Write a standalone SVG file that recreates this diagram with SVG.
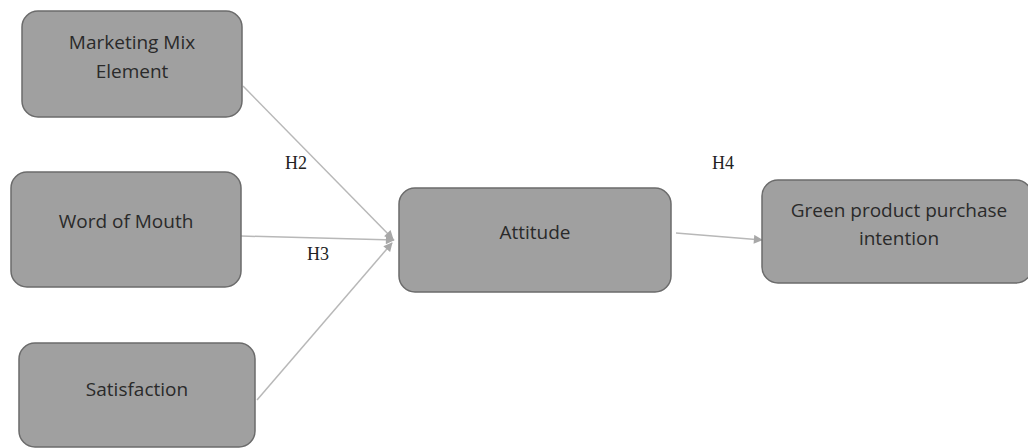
<svg xmlns="http://www.w3.org/2000/svg" width="1028" height="448" viewBox="0 0 1028 448">
  <style>
    .box { fill: #a0a0a0; stroke: #6b6b6b; stroke-width: 1.5; }
    .lbl { font-family: "Open Sans", "Liberation Sans", sans-serif; font-size: 19px; fill: #2a2a2a; text-anchor: middle; }
    .hyp { font-family: "Liberation Serif", serif; font-size: 18px; fill: #222; }
    .edge { stroke: #b8b8b8; stroke-width: 1.5; fill: none; marker-end: url(#arrow); }
  </style>
  <defs>
    <marker id="arrow" viewBox="0 0 10 10" refX="9" refY="5" markerWidth="10" markerHeight="9" markerUnits="userSpaceOnUse" orient="auto">
      <path d="M0,0 L10,5 L0,10 z" fill="#a8a8a8"/>
    </marker>
  </defs>
  <rect width="1028" height="448" fill="#ffffff"/>

  <g id="connectors">
    <line class="edge" x1="243" y1="86" x2="393" y2="239"/>
    <line class="edge" x1="241" y1="236" x2="394" y2="240"/>
    <line class="edge" x1="257" y1="400" x2="392" y2="243"/>
    <line class="edge" x1="676" y1="233" x2="762" y2="240"/>
  </g>

  <g id="node-marketing">
    <rect class="box" x="22" y="11" width="220" height="106" rx="16"/>
    <text class="lbl" x="132" y="49">Marketing Mix</text>
    <text class="lbl" x="132" y="78">Element</text>
  </g>
  <g id="node-wom">
    <rect class="box" x="11" y="172" width="230" height="115" rx="16"/>
    <text class="lbl" x="126" y="228">Word of Mouth</text>
  </g>
  <g id="node-satisfaction">
    <rect class="box" x="19" y="343" width="236" height="104" rx="16"/>
    <text class="lbl" x="137" y="396">Satisfaction</text>
  </g>
  <g id="node-attitude">
    <rect class="box" x="399" y="188" width="272" height="104" rx="16"/>
    <text class="lbl" x="535" y="239">Attitude</text>
  </g>
  <g id="node-intention">
    <rect class="box" x="762" y="180" width="270" height="103" rx="16"/>
    <text class="lbl" x="899" y="217">Green product purchase</text>
    <text class="lbl" x="899" y="245">intention</text>
  </g>

  <g id="labels">
    <text class="hyp" x="285" y="169">H2</text>
    <text class="hyp" x="307" y="260">H3</text>
    <text class="hyp" x="712" y="169">H4</text>
  </g>
</svg>
